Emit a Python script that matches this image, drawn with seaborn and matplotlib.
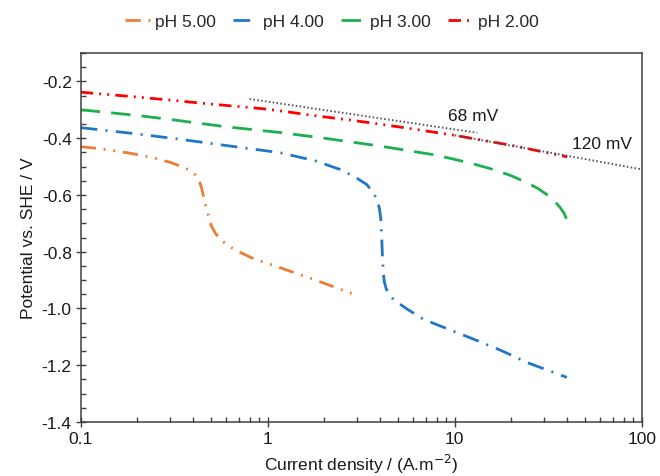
import numpy as np
import pandas as pd
import matplotlib
matplotlib.use("Agg")
import matplotlib.pyplot as plt
import seaborn as sns
from matplotlib.ticker import LogLocator, MultipleLocator, FixedLocator, FuncFormatter, NullFormatter

sns.set_theme(style="white")
plt.rcParams["font.family"] = ["Liberation Sans", "DejaVu Sans"]
plt.rcParams["axes.unicode_minus"] = False

# ---- data (current density A/m2, potential V vs SHE) ----
j_ph5 = [0.1, 0.13, 0.18, 0.244, 0.30, 0.34, 0.38, 0.41, 0.434, 0.445, 0.453, 0.462, 0.472,
         0.485, 0.50, 0.525, 0.556, 0.61, 0.683, 0.85, 1.16, 1.75, 2.81]
e_ph5 = [-0.430, -0.438, -0.452, -0.469, -0.485, -0.498, -0.512, -0.530, -0.557, -0.580, -0.604,
         -0.628, -0.651, -0.680, -0.710, -0.735, -0.756, -0.777, -0.797, -0.826, -0.856, -0.897, -0.947]

j_ph4 = [0.1, 0.2, 0.34, 0.6, 1.16, 1.8, 2.43, 2.9, 3.38, 3.65, 3.83, 3.95, 4.02, 4.07, 4.11,
         4.15, 4.2, 4.3, 4.45, 4.7, 5.5, 6.8, 9.0, 12.6, 18.0, 24.3, 39.8]
e_ph4 = [-0.363, -0.385, -0.404, -0.426, -0.451, -0.480, -0.510, -0.535, -0.563, -0.590, -0.615,
         -0.645, -0.680, -0.750, -0.820, -0.870, -0.905, -0.930, -0.948, -0.968, -1.000, -1.038,
         -1.070, -1.108, -1.150, -1.190, -1.243]

j_ph3 = [0.1, 0.2, 0.3, 0.6, 1.16, 2.0, 4.0, 8.0, 12.0, 16.0, 20.0, 24.0, 28.0, 31.0, 34.0,
         36.5, 38.5, 39.7]
e_ph3 = [-0.300, -0.320, -0.334, -0.360, -0.380, -0.400, -0.428, -0.460, -0.487, -0.510, -0.532,
         -0.555, -0.578, -0.598, -0.620, -0.643, -0.665, -0.686]

j_ph2 = [0.1, 0.2, 0.3, 0.5, 1.0, 2.0, 2.76, 5.0, 10.0, 20.0, 40.0]
e_ph2 = [-0.238, -0.255, -0.266, -0.280, -0.298, -0.325, -0.336, -0.360, -0.390, -0.425, -0.466]

tafel68_j = [0.8, 13.2]
tafel68_e = [-0.262, -0.381]
tafel120_j = [10.0, 100.0]
tafel120_e = [-0.390, -0.510]

series_labels = ["pH 5.00", "pH 4.00", "pH 3.00", "pH 2.00"]
x_ticks = [0.1, 1, 10, 100]
x_tick_labels = ["0.1", "1", "10", "100"]
y_ticks = [-1.4, -1.2, -1.0, -0.8, -0.6, -0.4, -0.2]

colors = ["#ED7D31", "#1F77C8", "#1DB04F", "#FF0000"]
lw = 2.0
styles = [(0, (5.5, 2.8, 0.7, 2.8, 0.7, 2.8)),
          (0, (6, 3, 0.7, 3)),
          (0, (7, 4)),
          (0, (4.5, 2.2, 0.7, 2.2, 0.7, 2.2))]

FS = 12.5
fig = plt.figure(figsize=(6.6, 4.77), dpi=100)
ax = fig.add_axes([80.7 / 660, 1 - 423 / 477, (641.7 - 80.7) / 660, (423 - 54) / 477])

data = [(j_ph5, e_ph5), (j_ph4, e_ph4), (j_ph3, e_ph3), (j_ph2, e_ph2)]
for (jj, ee), lab, c, ls in zip(data, series_labels, colors, styles):
    df = pd.DataFrame({"j": jj, "E": ee})
    sns.lineplot(data=df, x="j", y="E", ax=ax, color=c, linestyle=ls, lw=lw,
                 label=lab, estimator=None, sort=False)

for jj, ee in [(tafel68_j, tafel68_e), (tafel120_j, tafel120_e)]:
    df = pd.DataFrame({"j": jj, "E": ee})
    sns.lineplot(data=df, x="j", y="E", ax=ax, color="#555555", linestyle=(0, (0.8, 1.2)),
                 lw=1.4, estimator=None, sort=False, legend=False)

ax.text(12.5, -0.320, "68 mV", fontsize=FS, ha="center", va="center", color="#1a1a1a")
ax.text(61.7, -0.418, "120 mV", fontsize=FS, ha="center", va="center", color="#1a1a1a")

ax.set_xscale("log")
ax.set_xlim(0.1, 100)
ax.set_ylim(-1.4, -0.1)
ax.xaxis.set_major_locator(FixedLocator(x_ticks))
ax.xaxis.set_major_formatter(FuncFormatter(lambda v, p: x_tick_labels[x_ticks.index(v)] if v in x_ticks else ""))
ax.xaxis.set_minor_locator(LogLocator(base=10, subs=np.arange(2, 10)))
ax.xaxis.set_minor_formatter(NullFormatter())
ax.yaxis.set_major_locator(FixedLocator(y_ticks))
ax.yaxis.set_major_formatter(FuncFormatter(lambda v, p: f"{v:.1f}"))
ax.yaxis.set_minor_locator(MultipleLocator(0.05))

ax.tick_params(which="major", direction="inout", length=7, width=1, color="#404040",
               labelsize=FS, labelcolor="#1a1a1a", pad=3, bottom=True, left=True)
ax.tick_params(which="minor", direction="in", length=3.5, width=1, color="#404040",
               bottom=True, left=True)
for s in ax.spines.values():
    s.set_color("#404040")
    s.set_linewidth(1.1)
    s.set_visible(True)

ax.set_xlabel("Current density / (A.m$^{-2}$)", fontsize=FS, color="#1a1a1a", labelpad=4)
ax.set_ylabel("Potential vs. SHE / V", fontsize=FS, color="#1a1a1a", labelpad=4)
ax.grid(False)

handles, labels = ax.get_legend_handles_labels()
ax.get_legend().remove()
fig.legend(handles, labels, loc="center", bbox_to_anchor=(332 / 660, 1 - 22 / 477), ncol=4,
           frameon=False, fontsize=FS, handlelength=1.4, handletextpad=0.3, columnspacing=1.0)

fig.savefig("out.png", dpi=100)
